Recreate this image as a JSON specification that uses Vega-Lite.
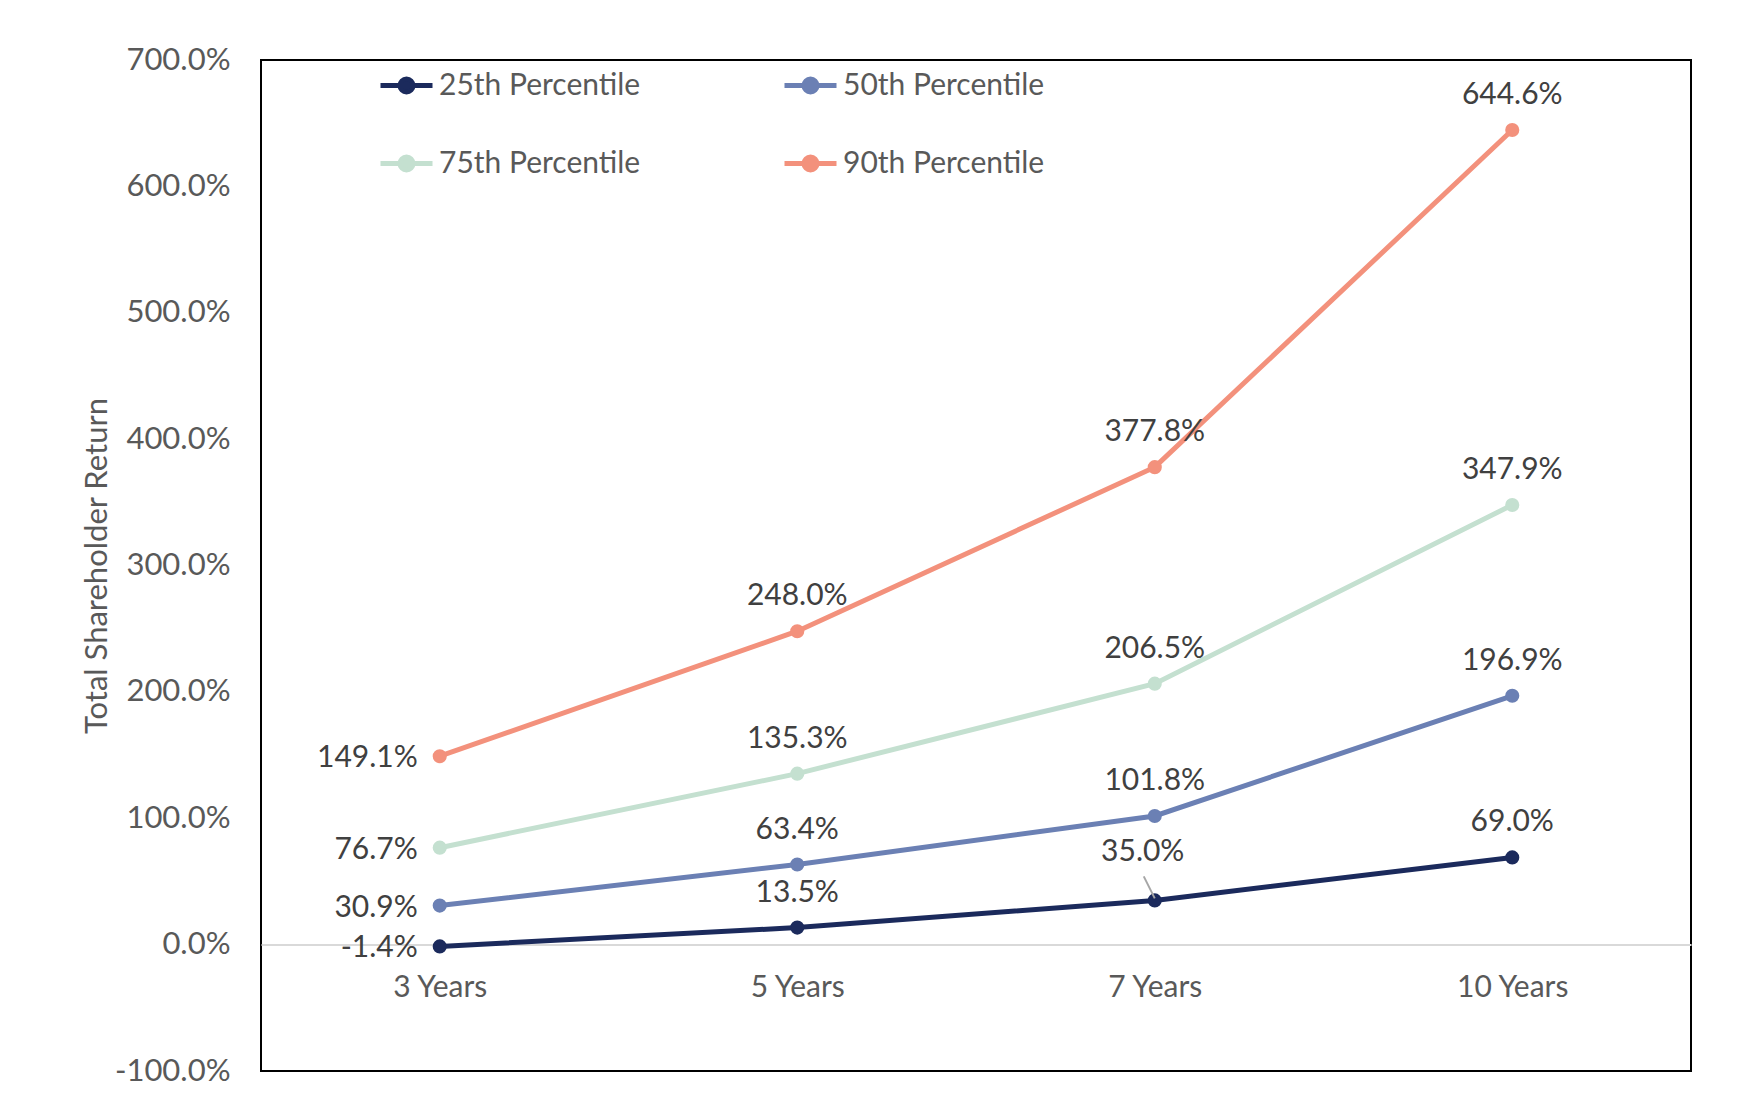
{
  "$schema": "https://vega.github.io/schema/vega-lite/v6.json",
  "width": 1430,
  "height": 1011,
  "autosize": {"type": "none"},
  "padding": {"left": 261, "top": 60, "right": 49, "bottom": 27},
  "background": "white",
  "config": {
    "font": "Lato",
    "view": {"stroke": "#000000", "strokeWidth": 2},
    "axis": {"labelFont": "Lato", "titleFont": "Lato", "labelColor": "#595959", "titleColor": "#595959", "grid": false, "ticks": false}
  },
  "data": {
    "values": [
      {"period": "3 Years", "series": "25th Percentile", "value": -1.4},
      {"period": "5 Years", "series": "25th Percentile", "value": 13.5},
      {"period": "7 Years", "series": "25th Percentile", "value": 35.0},
      {"period": "10 Years", "series": "25th Percentile", "value": 69.0},
      {"period": "3 Years", "series": "50th Percentile", "value": 30.9},
      {"period": "5 Years", "series": "50th Percentile", "value": 63.4},
      {"period": "7 Years", "series": "50th Percentile", "value": 101.8},
      {"period": "10 Years", "series": "50th Percentile", "value": 196.9},
      {"period": "3 Years", "series": "75th Percentile", "value": 76.7},
      {"period": "5 Years", "series": "75th Percentile", "value": 135.3},
      {"period": "7 Years", "series": "75th Percentile", "value": 206.5},
      {"period": "10 Years", "series": "75th Percentile", "value": 347.9},
      {"period": "3 Years", "series": "90th Percentile", "value": 149.1},
      {"period": "5 Years", "series": "90th Percentile", "value": 248.0},
      {"period": "7 Years", "series": "90th Percentile", "value": 377.8},
      {"period": "10 Years", "series": "90th Percentile", "value": 644.6}
    ]
  },
  "encoding": {
    "x": {
      "field": "period", "type": "ordinal",
      "sort": ["3 Years", "5 Years", "7 Years", "10 Years"],
      "scale": {"type": "point", "padding": 0.5},
      "axis": {"title": null, "orient": "bottom", "offset": -126.4, "domainColor": "#d9d9d9", "domainWidth": 2, "labelFontSize": 30, "labelPadding": 28, "labelAngle": 0}
    },
    "y": {
      "field": "value", "type": "quantitative",
      "scale": {"domain": [-100, 700], "nice": false, "zero": false},
      "axis": {"title": "Total Shareholder Return", "titleFontSize": 31, "titleFontWeight": "normal", "titlePadding": 1, "labelFontSize": 31, "labelPadding": 31, "domain": false, "values": [-100, 0, 100, 200, 300, 400, 500, 600, 700], "labelExpr": "replace(format(datum.value, '.1f'), '\u2212', '-') + '%'"}
    }
  },
  "layer": [
    {
      "mark": {"type": "line", "strokeWidth": 5},
      "encoding": {
        "color": {
          "field": "series", "type": "nominal",
          "scale": {"domain": ["25th Percentile", "50th Percentile", "75th Percentile", "90th Percentile"], "range": ["#1b2a5c", "#6b80b4", "#c4e0d0", "#f3917c"]},
          "legend": {
            "title": null, "orient": "none", "legendX": 117, "legendY": -3, "direction": "horizontal", "columns": 2,
            "columnPadding": 133, "rowPadding": 33, "padding": 0,
            "symbolType": "M-1,0L1,0M-0.25,0A0.25,0.25 0 1 1 0.25,0A0.25,0.25 0 1 1 -0.25,0Z",
            "symbolSize": 2704, "symbolStrokeWidth": 5,
            "labelFontSize": 30, "labelColor": "#595959", "labelFont": "Lato", "labelOffset": 4, "labelLimit": 500,
            "encode": {"symbols": {"update": {"fill": {"scale": "color", "field": "value"}, "stroke": {"scale": "color", "field": "value"}, "strokeWidth": {"value": 5}}}}
          }
        }
      }
    },
    {
      "mark": {"type": "point", "filled": true, "size": 200, "opacity": 1},
      "encoding": {
        "color": {"field": "series", "type": "nominal", "legend": null}
      }
    },
    {
      "transform": [{"filter": "datum.series === '25th Percentile' && datum.period === '7 Years'"}],
      "mark": {"type": "rule", "color": "#a6a6a6", "strokeWidth": 2, "xOffset": -11, "yOffset": -24, "x2Offset": 0, "y2Offset": -2},
      "encoding": {"x2": {"field": "period"}, "y2": {"field": "value"}}
    },
    {
      "transform": [{"filter": "datum.period === '3 Years'"}],
      "mark": {"type": "text", "align": "right", "baseline": "middle", "dx": -22, "dy": 2, "fontSize": 30, "color": "#404040"},
      "encoding": {"text": {"field": "label", "type": "nominal"}}
    },
    {
      "transform": [{"filter": "datum.period !== '3 Years' && !(datum.series === '25th Percentile' && datum.period === '7 Years')"}],
      "mark": {"type": "text", "align": "center", "baseline": "middle", "dy": -35, "fontSize": 30, "color": "#404040"},
      "encoding": {"text": {"field": "label", "type": "nominal"}}
    },
    {
      "transform": [{"filter": "datum.series === '25th Percentile' && datum.period === '7 Years'"}],
      "mark": {"type": "text", "align": "center", "baseline": "middle", "dx": -12, "dy": -48, "fontSize": 30, "color": "#404040"},
      "encoding": {"text": {"field": "label", "type": "nominal"}}
    }
  ],
  "transform": [{"calculate": "replace(format(datum.value, '.1f'), '\u2212', '-') + '%'", "as": "label"}]
}
